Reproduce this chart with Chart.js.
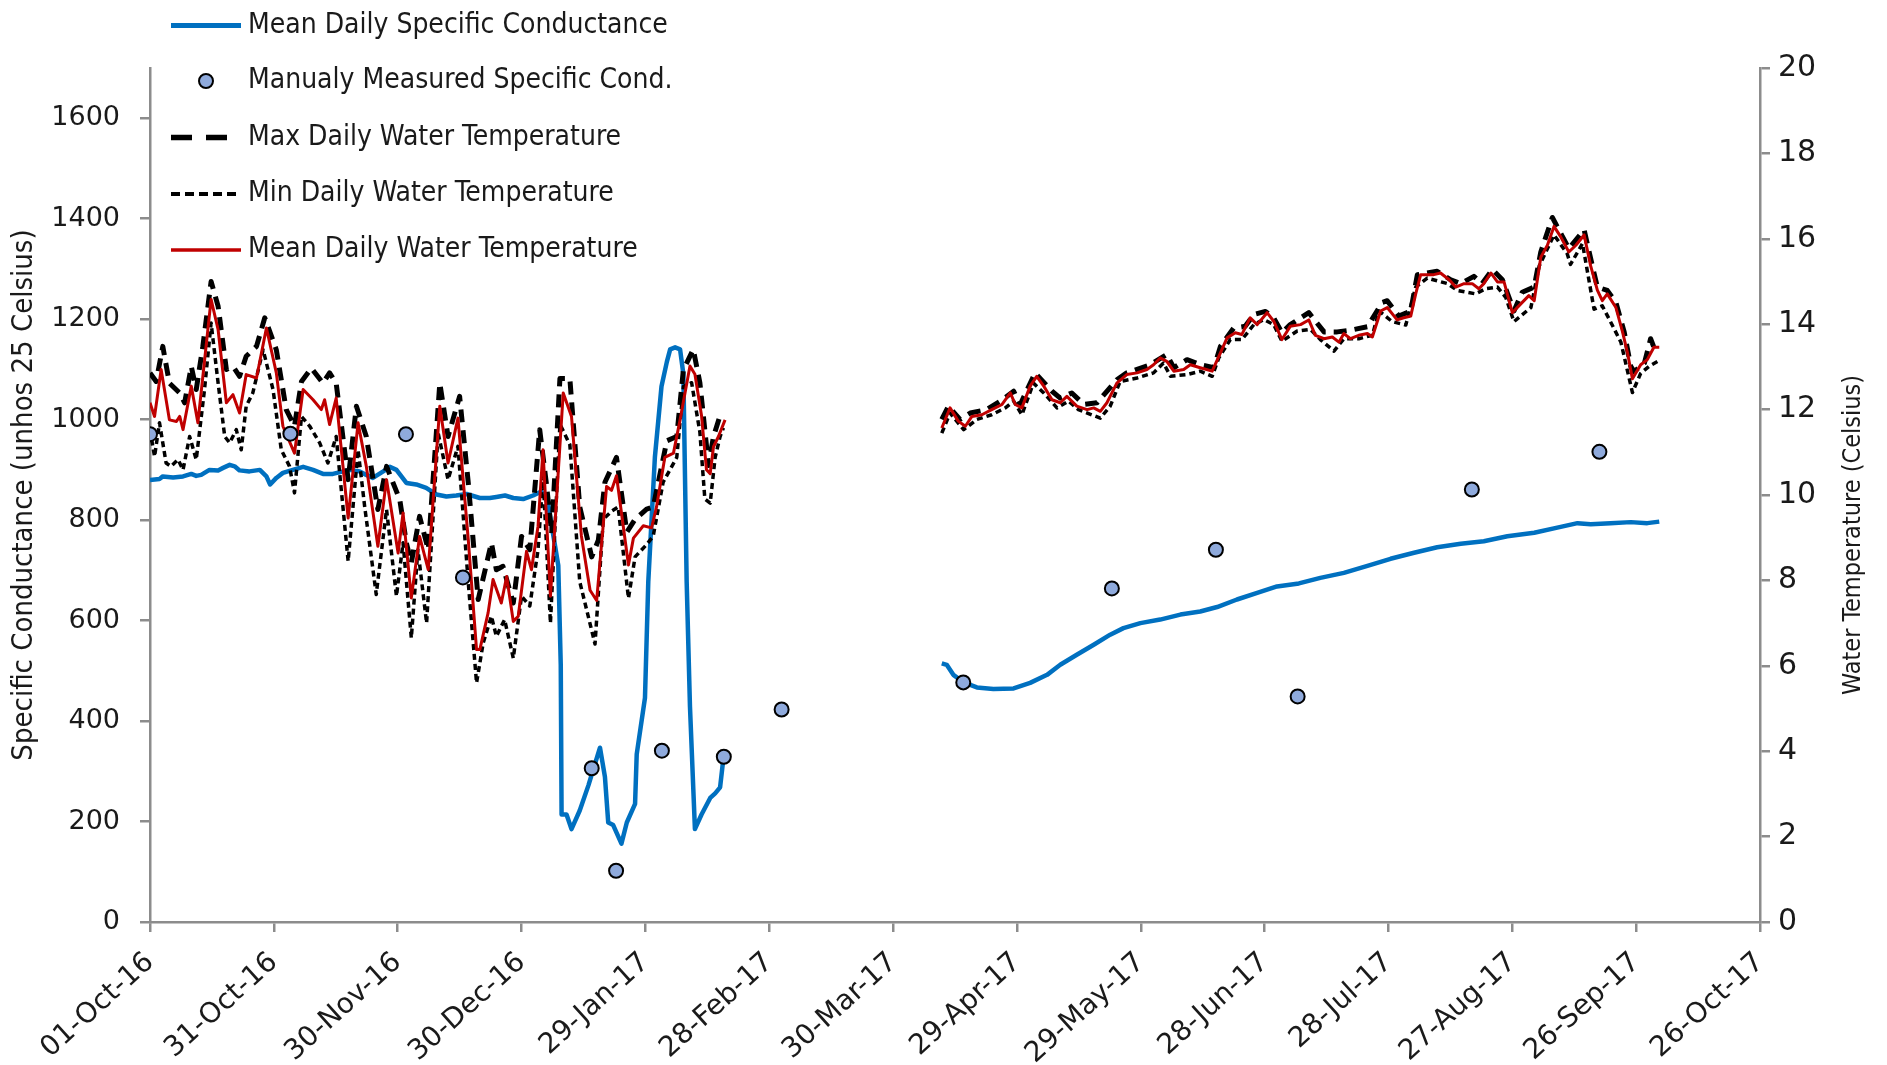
<!DOCTYPE html>
<html lang="en">
<head>
<meta charset="utf-8">
<title>Specific Conductance and Water Temperature</title>
<script src="https://cdn.jsdelivr.net/npm/chart.js@4.4.1/dist/chart.umd.min.js"></script>
<style>
    html, body { margin: 0; padding: 0; background: #ffffff; }
    #chartCanvas { display: block; }
</style>
</head>
<body>
<canvas id="chartCanvas" width="1887" height="1065"></canvas>
<script>
// =========================
// Data (x = days since 01-Oct-16, null = no record)
// =========================
const xTickLabels = ["01-Oct-16", "31-Oct-16", "30-Nov-16", "30-Dec-16", "29-Jan-17", "28-Feb-17", "30-Mar-17",
    "29-Apr-17", "29-May-17", "28-Jun-17", "28-Jul-17", "27-Aug-17", "26-Sep-17", "26-Oct-17"];

const condDays = [0, 2.3, 3.1, 5.6, 8, 10, 11.2, 12.4, 14.4, 16.5, 17.7, 19.3, 20.5, 21.7, 24.1, 26.6, 28.2, 29.1, 30.6, 32.2,
    34.6, 37.1, 39.5, 41.9, 44.3, 46.8, 48.4, 50.8, 52.4, 54, 56.5, 58.1, 59.7, 62.1, 64.5, 66.9, 69.4, 71.8, 74.2, 76.7,
    79.9, 82.3, 83.9, 86, 88, 90.4, 92.8, 94.8, 96.4, 98.9, 99.5, 99.7, 100.9, 102.1, 104.1, 106.2, 109, 110.2, 111, 112.2,
    114.2, 115.5, 117.5, 117.9, 119.9, 120.7, 122.3, 123.9, 125.2, 126, 127.2, 128.4, 129.2, 130, 130.8, 132, 133.6, 135.7, 136.9, 138.1,
    138.9, 165,
    191.8, 193, 194.6, 197.1, 200.3, 204.3, 209.2, 213.2, 217.3, 220.5, 224.5, 228.6, 232.6, 235.8, 239.9, 244.7, 249.6, 254.4, 258.5, 263.3,
    268.2, 273, 278.3, 283.5, 289.2, 294.9, 300.5, 306.2, 311.8, 317.5, 323.1, 328.8, 335.3, 340.9, 345.8, 349, 353.8, 358.7, 362.7, 365.6];
const condValues = [880, 882, 887, 885, 887, 892, 888, 890, 900, 899, 904, 910, 907, 899, 897, 900, 887, 871, 884, 894,
    900, 906, 900, 892, 892, 897, 900, 897, 890, 884, 897, 906, 900, 874, 871, 864, 851, 847, 849, 852,
    844, 844, 846, 849, 844, 842, 849, 857, 834, 710, 512, 214, 214, 185, 222, 272, 347, 289, 198, 193,
    156, 198, 235, 334, 446, 677, 925, 1066, 1115, 1140, 1144, 1140, 1091, 677, 429, 185, 214, 247, 256, 268,
    326, null,
    515, 512, 492, 477, 467, 464, 465, 476, 492, 512, 532, 552, 572, 585, 595, 602, 612, 618, 627, 642,
    655, 668, 674, 685, 695, 709, 723, 735, 746, 753, 758, 768, 775, 785, 794, 792, 794, 796, 794, 797];

const manualDays = [0, 34, 62, 75.8, 107, 112.9, 124, 139, 153, 197, 233, 258.2, 278, 320.2, 351.1];
const manualValues = [971, 972, 971, 686, 306, 102, 341, 329, 423, 477, 664, 741, 449, 861, 936];

const maxDays = [0, 1.5, 3.1, 4.7, 7.2, 8.4, 10, 11.2, 12.8, 14.8, 16.5, 18.5, 20.1, 21.7, 23.3, 25.8, 27.8, 30.6, 33, 35,
    36.7, 39.1, 41.9, 43.5, 45.1, 48, 50, 52.4, 55.2, 57.3, 60.5, 62.1, 63.3, 65.3, 67.4, 70.2, 72.2, 75, 77.1, 79.5,
    82.7, 83.9, 85.5, 88, 90, 92, 94.4, 96, 97.3, 99.3, 101.7, 104.1, 107, 108.6, 110.2, 113, 115.5, 117.5, 120.3, 121.9,
    125.2, 127.6, 129.2, 131.6, 133.2, 135.3, 136.5, 138.1, 138.9, 165,
    191.8, 193.4, 196.2, 198.7, 202.7, 206, 209.2, 210.8, 214.4, 218.5, 220.5, 223.3, 226.2, 229.4, 234.2, 236.6, 242.3, 246.3, 248, 251.2,
    254.4, 257.7, 259.3, 262.5, 265.3, 267.4, 270.2, 272.2, 274.2, 276.2, 280.7, 284.4, 287.6, 290.8, 294.9, 298.5, 299.7, 302.5, 305.4, 307,
    311.8, 315.1, 317.5, 320.7, 322.7, 325.2, 327.6, 330.4, 332.4, 335.3, 336.9, 339.7, 341.7, 343.7, 347.4, 349.4, 350.6, 353, 355.1, 357.1,
    358.7, 359.5, 362, 363.5, 364.8];
const maxTemp = [12.86, 12.66, 13.48, 12.62, 12.39, 12.16, 13.01, 12.47, 13.48, 15.0, 14.42, 12.94, 13.01, 12.78, 13.25, 13.48, 14.15, 13.4, 12.0, 11.61,
    12.66, 12.97, 12.62, 12.86, 12.62, 10.36, 12.08, 11.37, 9.66, 10.67, 9.89, 8.88, 8.41, 9.5, 8.72, 12.62, 11.37, 12.31, 10.28, 7.55,
    8.88, 8.25, 8.33, 7.47, 9.03, 8.72, 11.53, 10.28, 9.1, 12.73, 12.73, 9.72, 8.55, 8.94, 10.3, 10.88, 9.13, 9.43, 9.67, 9.72,
    11.27, 11.37, 12.93, 13.41, 12.63, 10.69, 11.37, 11.86, 11.9, null,
    11.77, 12.08, 11.77, 11.92, 12.0, 12.2, 12.43, 12.12, 12.86, 12.43, 12.27, 12.39, 12.12, 12.16, 12.7, 12.86, 13.05, 13.29, 12.98, 13.17,
    13.05, 12.98, 13.48, 13.91, 13.95, 14.23, 14.3, 14.15, 13.8, 13.99, 14.27, 13.82, 13.82, 13.86, 13.94, 14.51, 14.55, 14.19, 14.31, 15.16,
    15.24, 15.04, 14.95, 15.12, 14.95, 15.28, 15.04, 14.31, 14.75, 14.87, 15.69, 16.5, 16.13, 15.77, 16.21, 15.36, 14.87, 14.79, 14.51, 13.82,
    13.01, 12.89, 13.09, 13.66, 13.33];

const minDays = [0, 1.1, 2.3, 3.9, 5.1, 6.8, 8, 9.6, 11.2, 13.2, 14.8, 16.5, 18.1, 19.3, 20.9, 22.1, 23.3, 24.9, 27.4, 29.8,
    31.8, 33.8, 35, 36.7, 38.7, 41.1, 43.1, 45.1, 48, 50.4, 52, 54.8, 57.3, 59.7, 61.3, 63.3, 64.9, 67, 69.8, 72.2,
    74.6, 77.1, 79.1, 80.7, 82.7, 83.9, 85.9, 88, 90, 92, 94, 95.2, 97, 99.3, 101.7, 104.1, 107.8, 109.8, 111.8, 113.4,
    115.9, 117.5, 120.3, 121.9, 124.3, 127.6, 129.2, 131.2, 133.2, 134.4, 135.7, 136.9, 138.1, 138.9, 165,
    191.8, 193.8, 197.1, 200.3, 203.9, 207.2, 209.2, 211.2, 214, 216.5, 219.7, 222.5, 224.9, 230.2, 232.6, 235, 239.1, 243.1, 245.5, 247.2,
    251.2, 254.4, 257.3, 258.9, 261.7, 264.5, 267.4, 269.8, 272.2, 274.2, 277.9, 281.1, 283.5, 286.8, 289.2, 292.8, 296.1, 297.7, 300.9, 304.2,
    306.6, 309.4, 314.3, 316.7, 321.1, 323.5, 326.4, 328.4, 330.4, 334.5, 336.5, 340.1, 343.3, 344.1, 347, 349.8, 351.8, 354.2, 356.3, 359.1,
    361.1, 363.1, 365.2];
const minTemp = [11.53, 10.9, 11.69, 10.75, 10.67, 10.83, 10.59, 11.37, 10.83, 12.47, 14.03, 12.62, 11.37, 11.22, 11.53, 11.06, 12.08, 12.39, 13.4, 12.47,
    11.06, 10.67, 10.05, 11.84, 11.61, 11.22, 10.75, 11.37, 8.45, 11.06, 9.73, 7.67, 9.66, 7.63, 8.88, 6.65, 8.72, 7.0, 11.45, 10.36,
    11.14, 7.94, 5.6, 6.53, 7.16, 6.69, 7.08, 6.18, 7.63, 7.4, 8.72, 10.44, 7.0, 11.66, 11.18, 7.97, 6.51, 9.43, 9.62, 9.72,
    7.58, 8.55, 8.84, 9.04, 10.3, 10.88, 12.54, 12.63, 11.47, 9.91, 9.81, 10.88, 11.37, 11.57, null,
    11.45, 11.92, 11.53, 11.77, 11.88, 12.04, 12.2, 11.88, 12.62, 12.39, 12.04, 12.2, 12.0, 11.8, 12.08, 12.66, 12.74, 12.86, 13.09, 12.78,
    12.82, 12.9, 12.78, 13.21, 13.64, 13.64, 13.99, 14.11, 13.99, 13.6, 13.84, 13.88, 13.64, 13.37, 13.66, 13.66, 13.74, 14.31, 14.06, 13.98,
    14.87, 15.08, 14.95, 14.79, 14.71, 14.83, 14.87, 14.63, 14.06, 14.39, 15.36, 16.09, 15.65, 15.4, 15.89, 14.35, 14.43, 13.98, 13.58, 12.4,
    12.85, 13.01, 13.13];

const meanDays = [0, 1.1, 2.7, 4.7, 6.4, 7.2, 8, 10, 11.6, 14.8, 16.5, 18.5, 20.1, 21.7, 23.3, 25.8, 28.2, 30.6, 32.2, 35,
    37.1, 39.5, 41.5, 42.3, 43.5, 45.1, 48, 50.4, 52.4, 55.2, 57.3, 60.1, 61.3, 63.3, 65.3, 67.4, 70.2, 72.2, 74.6, 77.1,
    79.1, 79.9, 81.9, 83.1, 85.1, 86.4, 88, 89.2, 91.2, 92.4, 94, 95.2, 97, 100.1, 102.1, 104.5, 106.6, 108.2, 110.6, 111.8,
    113, 115.9, 117.1, 119.5, 121.5, 122.7, 124.7, 126.8, 128.4, 130.8, 132, 133.6, 134.8, 135.7, 136.5, 137.7, 139.3, 165,
    191.8, 193.8, 195.8, 197.5, 199.1, 201.5, 203.9, 206.4, 208.4, 209.6, 211.2, 213.2, 214.8, 216.5, 218.5, 220.5, 222.1, 224.5, 227, 228.6,
    230.2, 231.8, 234.2, 236.6, 239.1, 241.5, 243.1, 244.7, 246.3, 248, 250.4, 252, 254.4, 257.3, 259.3, 260.9, 262.9, 264.5, 266.5, 268.2,
    270.6, 272.2, 274.2, 276.2, 278.7, 280.7, 282.3, 284.4, 286.4, 288, 289.2, 290.8, 292.8, 294.9, 296.1, 298.1, 299.7, 302.1, 303.7, 305.4,
    306.6, 307.8, 311, 312.6, 314.7, 316.3, 318.3, 320.3, 321.9, 323.1, 324.8, 326.4, 328, 330, 332, 334, 335.3, 336.9, 338.5, 340.1,
    341.7, 343.7, 345.4, 347.4, 349, 350.6, 351.8, 353, 355.1, 356.7, 357.9, 359.1, 361.1, 362.7, 364.3, 365.6];
const meanTemp = [12.16, 11.84, 12.94, 11.76, 11.72, 11.84, 11.53, 12.55, 11.69, 14.58, 13.87, 12.16, 12.35, 11.92, 12.82, 12.74, 13.91, 12.86, 11.61, 10.98,
    12.47, 12.23, 12.0, 12.23, 11.65, 12.27, 9.46, 11.69, 10.67, 8.8, 10.36, 8.64, 9.58, 7.59, 9.03, 8.25, 12.08, 10.75, 11.8, 8.95,
    6.38, 6.38, 7.24, 8.02, 7.47, 8.09, 7.04, 7.16, 8.68, 8.25, 9.27, 11.06, 7.63, 12.39, 11.84, 9.04, 7.77, 7.53, 10.2, 10.11,
    10.45, 8.36, 8.99, 9.28, 9.23, 9.72, 10.88, 10.98, 11.76, 13.02, 12.83, 11.86, 10.59, 10.5, 11.13, 11.37, 11.76, null,
    11.57, 12.04, 11.73, 11.61, 11.84, 11.88, 12.0, 12.12, 12.39, 12.12, 12.04, 12.55, 12.78, 12.55, 12.23, 12.16, 12.31, 12.08, 12.0, 12.04,
    11.96, 12.16, 12.62, 12.82, 12.86, 12.94, 13.05, 13.21, 13.13, 12.9, 12.94, 13.05, 12.98, 12.9, 13.33, 13.68, 13.8, 13.76, 14.15, 13.99,
    14.27, 14.07, 13.64, 13.95, 13.99, 14.1, 13.74, 13.66, 13.7, 13.58, 13.78, 13.66, 13.74, 13.78, 13.7, 14.31, 14.39, 14.1, 14.15, 14.19,
    14.71, 15.16, 15.16, 15.2, 15.04, 14.87, 14.95, 14.95, 14.83, 14.95, 15.2, 14.99, 14.99, 14.27, 14.47, 14.67, 14.55, 15.57, 15.85, 16.29,
    16.05, 15.69, 15.85, 16.09, 15.36, 14.8, 14.55, 14.71, 14.39, 13.82, 13.33, 12.72, 13.05, 13.17, 13.46, 13.46];

// =========================
// Helpers
// =========================
const narrowFont = '"Liberation Sans Narrow", "DejaVu Sans Condensed", "Open Sans", sans-serif';
const tickFont = '"DejaVu Sans", sans-serif';
const axisGray = "#8c8c8c";

function toPoints(days, values) {
    const n = Math.min(days.length, values.length);
    const pts = [];
    for (let i = 0; i < n; i++) pts.push({ x: days[i], y: values[i] });
    return pts;
}

// =========================
// Legend in the upper left corner (overlaps the plot like the original)
// =========================
const cornerLegend = {
    id: "cornerLegend",
    afterDraw(chart) {
        const ctx = chart.ctx;
        const rowY = [25.5, 81, 137.5, 194, 250];
        const x0 = 171, x1 = 241, textX = 248;
        ctx.save();
        chart.data.datasets.forEach((ds, i) => {
            const y = rowY[i];
            if (ds.showLine === false) {
                ctx.beginPath();
                ctx.arc((x0 + x1) / 2, y, ds.pointRadius, 0, Math.PI * 2);
                ctx.fillStyle = ds.pointBackgroundColor;
                ctx.fill();
                ctx.lineWidth = ds.pointBorderWidth;
                ctx.strokeStyle = ds.pointBorderColor;
                ctx.stroke();
            } else {
                ctx.beginPath();
                ctx.setLineDash(ds.legendDash || []);
                ctx.lineWidth = ds.borderWidth + 0.5;
                ctx.strokeStyle = ds.borderColor;
                ctx.moveTo(x0, y);
                ctx.lineTo(x1, y);
                ctx.stroke();
                ctx.setLineDash([]);
            }
            ctx.fillStyle = "#1a1a1a";
            ctx.font = "28px " + narrowFont;
            ctx.textBaseline = "middle";
            ctx.textAlign = "left";
            ctx.fillText(ds.label, textX, y);
        });
        ctx.restore();
    }
};

// Right axis title reads bottom-to-top like the left one
const rightTitle = {
    id: "rightTitle",
    afterDraw(chart) {
        const ctx = chart.ctx;
        ctx.save();
        ctx.translate(1853, 535);
        ctx.rotate(-Math.PI / 2);
        ctx.font = "25px " + narrowFont;
        ctx.fillStyle = "#1a1a1a";
        ctx.textAlign = "center";
        ctx.textBaseline = "middle";
        ctx.fillText("Water Temperature (Celsius)", 0, 0);
        ctx.restore();
    }
};

// =========================
// Chart
// =========================
const ctx = document.getElementById("chartCanvas").getContext("2d");

new Chart(ctx, {
    type: "line",
    data: {
        datasets: [{
            label: "Mean Daily Specific Conductance",
            data: toPoints(condDays, condValues),
            yAxisID: "y",
            borderColor: "#0070C0",
            borderWidth: 4.5,
            pointRadius: 0,
            order: 5
        }, {
            label: "Manualy Measured Specific Cond.",
            data: toPoints(manualDays, manualValues),
            yAxisID: "y",
            showLine: false,
            pointRadius: 7,
            pointBackgroundColor: "#8FAADC",
            pointBorderColor: "#000000",
            pointBorderWidth: 2,
            order: 0
        }, {
            label: "Max Daily Water Temperature",
            data: toPoints(maxDays, maxTemp),
            yAxisID: "y2",
            borderColor: "#000000",
            borderWidth: 5,
            borderDash: [13, 8],
            legendDash: [21, 14],
            pointRadius: 0,
            order: 3
        }, {
            label: "Min Daily Water Temperature",
            data: toPoints(minDays, minTemp),
            yAxisID: "y2",
            borderColor: "#000000",
            borderWidth: 3.5,
            borderDash: [6, 4],
            legendDash: [9, 5],
            pointRadius: 0,
            order: 2
        }, {
            label: "Mean Daily Water Temperature",
            data: toPoints(meanDays, meanTemp),
            yAxisID: "y2",
            borderColor: "#C00000",
            borderWidth: 3,
            pointRadius: 0,
            order: 1
        }]
    },
    options: {
        responsive: false,
        devicePixelRatio: 1,
        animation: false,
        events: [],
        spanGaps: false,
        layout: { padding: { top: 68, left: 0, right: 0, bottom: 0 } },
        elements: { line: { tension: 0, borderJoinStyle: "round" } },
        plugins: {
            legend: { display: false },
            tooltip: { enabled: false }
        },
        scales: {
            x: {
                type: "linear",
                min: 0,
                max: 390,
                afterFit: scale => { scale.height = 143; },
                ticks: {
                    stepSize: 30,
                    autoSkip: false,
                    maxRotation: 42,
                    minRotation: 42,
                    padding: 14,
                    color: "#1a1a1a",
                    font: { family: tickFont, size: 28 },
                    callback: value => xTickLabels[Math.round(value / 30)]
                },
                grid: { drawOnChartArea: false, tickLength: 10, color: axisGray, lineWidth: 2.5 },
                border: { color: axisGray, width: 2.5 }
            },
            y: {
                position: "left",
                min: 0,
                max: 1700,
                afterFit: scale => { scale.width = 150; },
                ticks: {
                    stepSize: 200,
                    includeBounds: false,
                    padding: 20,
                    color: "#1a1a1a",
                    font: { family: tickFont, size: 27 },
                    callback: value => String(value)
                },
                grid: { drawOnChartArea: false, tickLength: 10, color: axisGray, lineWidth: 2.5 },
                border: { color: axisGray, width: 2.5 },
                title: {
                    display: true,
                    text: "Specific Conductance (unhos 25 Celsius)",
                    color: "#1a1a1a",
                    font: { family: narrowFont, size: 29 },
                    padding: { top: 7, bottom: 0 }
                }
            },
            y2: {
                position: "right",
                min: 0,
                max: 20,
                afterFit: scale => { scale.width = 127; },
                ticks: {
                    stepSize: 2,
                    padding: 8,
                    color: "#1a1a1a",
                    font: { family: tickFont, size: 30 },
                    callback: value => String(value)
                },
                grid: { drawOnChartArea: false, tickLength: 10, color: axisGray, lineWidth: 2.5 },
                border: { color: axisGray, width: 2.5 }
            }
        }
    },
    plugins: [cornerLegend, rightTitle]
});
</script>
</body>
</html>
